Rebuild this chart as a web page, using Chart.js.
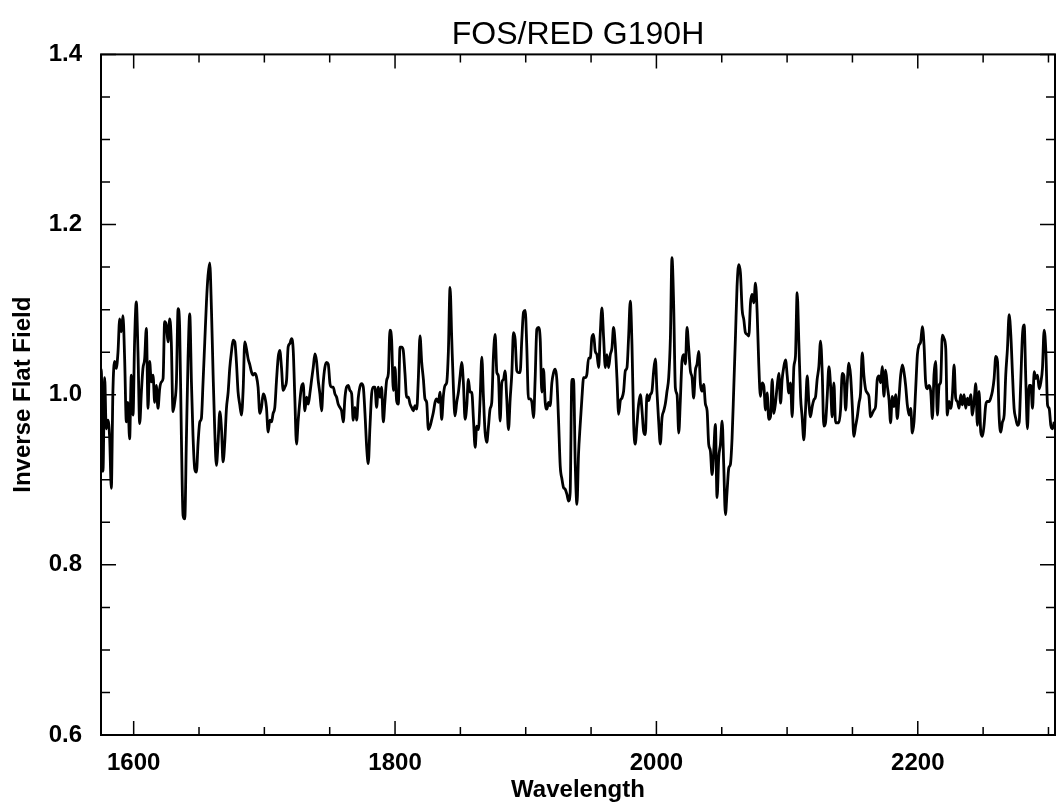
<!DOCTYPE html>
<html>
<head>
<meta charset="utf-8">
<title>FOS/RED G190H</title>
<script src="https://cdn.jsdelivr.net/npm/chart.js@4"></script>
<style>
  html, body { margin: 0; padding: 0; background: #fff; overflow: hidden; }
  #wrap { width: 1060px; height: 806px; }
</style>
</head>
<body>
<div id="wrap"><canvas id="spectrum" width="1060" height="806"></canvas></div>
<script>
// wavelength samples (Angstrom) and inverse flat field
const wavelength = [
  1573.9, 1575.2, 1576.5, 1577.8, 1579.0, 1580.3, 1581.6,
  1582.9, 1584.1, 1585.4, 1586.7, 1588.0, 1589.3, 1590.5, 1591.8, 1593.1, 1594.4,
  1595.6, 1596.9, 1598.2, 1599.5, 1600.7, 1602.0, 1603.3, 1604.6, 1605.9, 1607.1,
  1608.4, 1609.7, 1611.0, 1612.2, 1613.5, 1614.8, 1616.1, 1617.3, 1618.6, 1619.9,
  1621.2, 1622.5, 1623.7, 1625.0, 1626.3, 1627.6, 1628.8, 1630.1, 1631.4, 1632.7,
  1634.0, 1635.2, 1636.5, 1637.8, 1639.1, 1640.3, 1641.6, 1642.9, 1644.2, 1645.4,
  1646.7, 1648.0, 1649.3, 1650.6, 1651.8, 1653.1, 1654.4, 1655.7, 1656.9, 1658.2,
  1659.5, 1660.8, 1662.0, 1663.3, 1664.6, 1665.9, 1667.2, 1668.4, 1669.7, 1671.0,
  1672.3, 1673.5, 1674.8, 1676.1, 1677.4, 1678.6, 1679.9, 1681.2, 1682.5, 1683.8,
  1685.0, 1686.3, 1687.6, 1688.9, 1690.1, 1691.4, 1692.7, 1694.0, 1695.2, 1696.5,
  1697.8, 1699.1, 1700.4, 1701.6, 1702.9, 1704.2, 1705.5, 1706.7, 1708.0, 1709.3,
  1710.6, 1711.8, 1713.1, 1714.4, 1715.7, 1717.0, 1718.2, 1719.5, 1720.8, 1722.1,
  1723.3, 1724.6, 1725.9, 1727.2, 1728.4, 1729.7, 1731.0, 1732.3, 1733.6, 1734.8,
  1736.1, 1737.4, 1738.7, 1739.9, 1741.2, 1742.5, 1743.8, 1745.0, 1746.3, 1747.6,
  1748.9, 1750.2, 1751.4, 1752.7, 1754.0, 1755.3, 1756.5, 1757.8, 1759.1, 1760.4,
  1761.7, 1762.9, 1764.2, 1765.5, 1766.8, 1768.0, 1769.3, 1770.6, 1771.9, 1773.1,
  1774.4, 1775.7, 1777.0, 1778.3, 1779.5, 1780.8, 1782.1, 1783.4, 1784.6, 1785.9,
  1787.2, 1788.5, 1789.7, 1791.0, 1792.3, 1793.6, 1794.9, 1796.1, 1797.4, 1798.7,
  1800.0, 1801.2, 1802.5, 1803.8, 1805.1, 1806.3, 1807.6, 1808.9, 1810.2, 1811.5,
  1812.7, 1814.0, 1815.3, 1816.6, 1817.8, 1819.1, 1820.4, 1821.7, 1822.9, 1824.2,
  1825.5, 1826.8, 1828.1, 1829.3, 1830.6, 1831.9, 1833.2, 1834.4, 1835.7, 1837.0,
  1838.3, 1839.5, 1840.8, 1842.1, 1843.4, 1844.7, 1845.9, 1847.2, 1848.5, 1849.8,
  1851.0, 1852.3, 1853.6, 1854.9, 1856.1, 1857.4, 1858.7, 1860.0, 1861.3, 1862.5,
  1863.8, 1865.1, 1866.4, 1867.6, 1868.9, 1870.2, 1871.5, 1872.7, 1874.0, 1875.3,
  1876.6, 1877.9, 1879.1, 1880.4, 1881.7, 1883.0, 1884.2, 1885.5, 1886.8, 1888.1,
  1889.4, 1890.6, 1891.9, 1893.2, 1894.5, 1895.7, 1897.0, 1898.3, 1899.6, 1900.8,
  1902.1, 1903.4, 1904.7, 1906.0, 1907.2, 1908.5, 1909.8, 1911.1, 1912.3, 1913.6,
  1914.9, 1916.2, 1917.4, 1918.7, 1920.0, 1921.3, 1922.6, 1923.8, 1925.1, 1926.4,
  1927.7, 1928.9, 1930.2, 1931.5, 1932.8, 1934.0, 1935.3, 1936.6, 1937.9, 1939.2,
  1940.4, 1941.7, 1943.0, 1944.3, 1945.5, 1946.8, 1948.1, 1949.4, 1950.6, 1951.9,
  1953.2, 1954.5, 1955.8, 1957.0, 1958.3, 1959.6, 1960.9, 1962.1, 1963.4, 1964.7,
  1966.0, 1967.2, 1968.5, 1969.8, 1971.1, 1972.4, 1973.6, 1974.9, 1976.2, 1977.5,
  1978.7, 1980.0, 1981.3, 1982.6, 1983.8, 1985.1, 1986.4, 1987.7, 1989.0, 1990.2,
  1991.5, 1992.8, 1994.1, 1995.3, 1996.6, 1997.9, 1999.2, 2000.4, 2001.7, 2003.0,
  2004.3, 2005.6, 2006.8, 2008.1, 2009.4, 2010.7, 2011.9, 2013.2, 2014.5, 2015.8,
  2017.1, 2018.3, 2019.6, 2020.9, 2022.2, 2023.4, 2024.7, 2026.0, 2027.3, 2028.5,
  2029.8, 2031.1, 2032.4, 2033.7, 2034.9, 2036.2, 2037.5, 2038.8, 2040.0, 2041.3,
  2042.6, 2043.9, 2045.1, 2046.4, 2047.7, 2049.0, 2050.3, 2051.5, 2052.8, 2054.1,
  2055.4, 2056.6, 2057.9, 2059.2, 2060.5, 2061.7, 2063.0, 2064.3, 2065.6, 2066.9,
  2068.1, 2069.4, 2070.7, 2072.0, 2073.2, 2074.5, 2075.8, 2077.1, 2078.3, 2079.6,
  2080.9, 2082.2, 2083.5, 2084.7, 2086.0, 2087.3, 2088.6, 2089.8, 2091.1, 2092.4,
  2093.7, 2095.0, 2096.2, 2097.5, 2098.8, 2100.1, 2101.3, 2102.6, 2103.9, 2105.2,
  2106.4, 2107.7, 2109.0, 2110.3, 2111.5, 2112.8, 2114.1, 2115.4, 2116.7, 2117.9,
  2119.2, 2120.5, 2121.8, 2123.0, 2124.3, 2125.6, 2126.9, 2128.1, 2129.4, 2130.7,
  2132.0, 2133.3, 2134.5, 2135.8, 2137.1, 2138.4, 2139.6, 2140.9, 2142.2, 2143.5,
  2144.8, 2146.0, 2147.3, 2148.6, 2149.9, 2151.1, 2152.4, 2153.7, 2155.0, 2156.2,
  2157.5, 2158.8, 2160.1, 2161.4, 2162.6, 2163.9, 2165.2, 2166.5, 2167.7, 2169.0,
  2170.3, 2171.6, 2172.8, 2174.1, 2175.4, 2176.7, 2178.0, 2179.2, 2180.5, 2181.8,
  2183.1, 2184.3, 2185.6, 2186.9, 2188.2, 2189.4, 2190.7, 2192.0, 2193.3, 2194.6,
  2195.8, 2197.1, 2198.4, 2199.7, 2200.9, 2202.2, 2203.5, 2204.8, 2206.0, 2207.3,
  2208.6, 2209.9, 2211.2, 2212.4, 2213.7, 2215.0, 2216.3, 2217.5, 2218.8, 2220.1,
  2221.4, 2222.6, 2223.9, 2225.2, 2226.5, 2227.8, 2229.0, 2230.3, 2231.6, 2232.9,
  2234.1, 2235.4, 2236.7, 2238.0, 2239.2, 2240.5, 2241.8, 2243.1, 2244.4, 2245.6,
  2246.9, 2248.2, 2249.5, 2250.7, 2252.0, 2253.3, 2254.6, 2255.8, 2257.1, 2258.4,
  2259.7, 2261.0, 2262.2, 2263.5, 2264.8, 2266.1, 2267.3, 2268.6, 2269.9, 2271.2,
  2272.5, 2273.7, 2275.0, 2276.3, 2277.6, 2278.8, 2280.1, 2281.4, 2282.7, 2283.9,
  2285.2, 2286.5, 2287.8, 2289.1, 2290.3, 2291.6, 2292.9, 2294.2, 2295.4, 2296.7,
  2298.0, 2299.3, 2300.5, 2301.8, 2303.1, 2304.4
];

const inverseFlat = [
  0.93, 1.03, 0.91, 1.02, 0.96, 0.97, 0.95,
  0.89, 1.003, 1.039, 1.031, 1.050, 1.089, 1.074, 1.093, 1.042, 0.968,
  0.991, 0.948, 1.023, 0.976, 1.062, 1.109, 1.050, 0.966, 1.003, 1.031,
  1.042, 1.078, 0.984, 1.039, 1.015, 1.023, 0.991, 1.011, 0.984, 1.007,
  1.015, 1.019, 1.086, 1.082, 1.062, 1.089, 1.062, 0.980, 0.991, 1.015,
  1.101, 1.078, 0.952, 0.858, 0.854, 0.944, 1.042, 1.095, 1.015, 0.952,
  0.913, 0.909, 0.944, 0.968, 0.972, 1.015, 1.062, 1.109, 1.140, 1.155,
  1.101, 1.023, 0.960, 0.917, 0.944, 0.980, 0.960, 0.921, 0.944, 0.984,
  1.003, 1.031, 1.050, 1.064, 1.062, 1.039, 1.003, 0.988, 0.976, 1.007,
  1.062, 1.054, 1.042, 1.035, 1.027, 1.023, 1.025, 1.021, 1.009, 0.978,
  0.985, 1.001, 0.997, 0.985, 0.956, 0.970, 0.968, 0.978, 0.985, 1.017,
  1.044, 1.052, 1.032, 1.005, 1.009, 1.017, 1.056, 1.060, 1.066, 1.052,
  0.997, 0.942, 0.970, 0.993, 1.009, 1.013, 0.981, 0.997, 0.989, 1.001,
  1.017, 1.032, 1.048, 1.040, 1.017, 1.001, 0.981, 1.013, 1.032, 1.038,
  1.036, 1.013, 1.009, 1.009, 1.001, 0.997, 0.989, 0.985, 0.981, 0.968,
  0.997, 1.009, 1.011, 1.005, 1.001, 0.970, 0.985, 0.970, 0.997, 1.009,
  1.013, 1.009, 0.978, 0.938, 0.919, 0.962, 1.001, 1.009, 1.009, 0.985,
  1.009, 0.997, 1.009, 0.968, 0.993, 1.017, 1.025, 1.076, 1.064, 1.005,
  1.032, 0.993, 0.989, 1.056, 1.056, 1.052, 1.025, 0.997, 0.997, 0.989,
  0.985, 0.981, 0.987, 0.983, 1.018, 1.069, 1.038, 1.018, 0.995, 0.991,
  0.959, 0.963, 0.971, 0.979, 0.991, 0.995, 0.991, 1.003, 0.971, 0.999,
  1.011, 1.014, 1.050, 1.126, 1.065, 1.007, 0.975, 0.991, 1.003, 1.022,
  1.038, 1.014, 0.971, 0.987, 1.018, 1.003, 1.003, 0.971, 0.938, 0.963,
  0.959, 0.995, 1.044, 0.999, 0.956, 0.944, 0.963, 0.983, 0.991, 1.046,
  1.071, 1.026, 1.022, 0.969, 1.014, 1.018, 1.028, 0.995, 0.959, 0.995,
  1.026, 1.073, 1.065, 1.028, 1.026, 1.026, 1.065, 1.097, 1.099, 1.057,
  0.995, 0.995, 0.991, 0.973, 1.018, 1.077, 1.079, 1.065, 1.003, 1.030,
  0.991, 0.983, 0.991, 0.987, 1.014, 1.026, 1.030, 1.018, 0.971, 0.916,
  0.901, 0.891, 0.889, 0.883, 0.875, 0.885, 1.018, 1.018, 0.918, 0.871,
  0.930, 0.965, 0.996, 1.020, 1.020, 1.024, 1.043, 1.043, 1.067, 1.071,
  1.051, 1.047, 1.032, 1.071, 1.102, 1.067, 1.032, 1.047, 1.032, 1.047,
  1.055, 1.079, 1.059, 1.020, 0.977, 0.993, 0.996, 1.004, 1.028, 1.032,
  1.067, 1.110, 1.059, 0.965, 0.942, 0.965, 0.989, 1.000, 0.981, 0.957,
  0.953, 1.000, 0.993, 1.000, 1.004, 1.028, 1.042, 1.004, 0.969, 0.942,
  0.973, 0.981, 0.989, 1.004, 1.020, 1.067, 1.161, 1.106, 1.008, 1.000,
  0.955, 0.993, 1.040, 1.047, 1.036, 1.079, 1.055, 1.028, 1.020, 0.996,
  1.028, 1.036, 1.051, 1.012, 1.004, 1.012, 0.989, 0.981, 0.942, 0.934,
  0.906, 0.934, 0.965, 0.879, 0.926, 0.942, 0.969, 0.918, 0.859, 0.887,
  0.914, 0.918, 0.949, 1.008, 1.069, 1.127, 1.153, 1.143, 1.100, 1.088,
  1.073, 1.071, 1.069, 1.108, 1.118, 1.108, 1.131, 1.096, 1.037, 0.998,
  1.014, 1.010, 0.982, 1.002, 0.971, 0.974, 1.018, 0.978, 0.990, 1.010,
  1.025, 0.990, 1.018, 1.033, 1.041, 1.022, 1.002, 1.014, 0.974, 1.033,
  1.045, 1.120, 1.061, 0.998, 0.974, 0.947, 0.982, 1.022, 0.990, 0.974,
  0.986, 0.994, 0.998, 1.018, 1.033, 1.063, 1.025, 0.963, 0.967, 0.998,
  1.033, 1.010, 0.974, 1.014, 0.967, 0.967, 0.967, 0.982, 1.025, 1.022,
  0.982, 1.014, 1.037, 1.022, 0.986, 0.951, 0.963, 0.974, 0.990, 1.002,
  1.049, 1.022, 1.006, 1.002, 0.998, 0.974, 0.978, 0.982, 0.986, 1.018,
  1.022, 1.014, 1.033, 0.998, 1.029, 1.010, 0.994, 0.967, 0.998, 0.986,
  1.000, 0.972, 0.996, 1.023, 1.035, 1.027, 1.011, 0.988, 0.976, 0.984,
  0.955, 0.968, 1.007, 1.047, 1.058, 1.062, 1.080, 1.058, 1.015, 1.007,
  1.011, 1.004, 0.972, 1.023, 1.039, 0.976, 1.011, 1.015, 1.070, 1.066,
  1.054, 0.976, 0.992, 0.984, 1.000, 1.035, 0.996, 0.992, 0.984, 1.000,
  0.988, 1.000, 0.984, 0.996, 0.988, 1.000, 0.976, 0.992, 1.013, 0.964,
  1.004, 0.956, 0.951, 0.964, 0.988, 0.992, 0.992, 0.996, 1.004, 1.019,
  1.045, 1.039, 0.976, 0.956, 0.968, 0.976, 1.023, 1.054, 1.094, 1.070,
  1.023, 0.984, 0.972, 0.964, 0.968, 1.015, 1.070, 1.082, 1.015, 0.960,
  1.011, 1.011, 0.984, 1.027, 1.019, 1.023, 1.007, 1.015, 1.031, 1.076,
  1.051, 0.988, 0.984, 0.964, 0.960, 0.968
];

const xTicks = [1600, 1800, 2000, 2200];
const yTicks = [0.6, 0.8, 1.0, 1.2, 1.4];
const xMinorStep = 50;
const yMinorStep = 0.05;

const fontFamily = "'Liberation Sans', Arial, Helvetica, sans-serif";

// box around the plot with inward tick marks on all four sides
const frameTicks = {
  id: "frameTicks",
  afterDraw(chart) {
    const ctx = chart.ctx;
    const { left, right, top, bottom } = chart.chartArea;
    const xs = chart.scales.x;
    const ys = chart.scales.y;
    ctx.save();
    ctx.strokeStyle = "#000";
    ctx.lineWidth = 2;
    ctx.strokeRect(left, top, right - left, bottom - top);

    ctx.lineWidth = 1.5;
    ctx.beginPath();
    for (let v = xTicks[0] - xMinorStep; v <= xs.max; v += xMinorStep) {
      if (v < xs.min) continue;
      const px = xs.getPixelForValue(v);
      const len = xTicks.includes(v) ? 14 : 8;
      ctx.moveTo(px, bottom); ctx.lineTo(px, bottom - len);
      ctx.moveTo(px, top); ctx.lineTo(px, top + len);
    }
    const nY = Math.round((ys.max - ys.min) / yMinorStep);
    for (let k = 0; k <= nY; k++) {
      const py = ys.getPixelForValue(ys.min + k * yMinorStep);
      const len = k % 4 === 0 ? 15 : 9;
      ctx.moveTo(left, py); ctx.lineTo(left + len, py);
      ctx.moveTo(right, py); ctx.lineTo(right - len, py);
    }
    ctx.stroke();
    ctx.restore();
  },
};

const ctx = document.getElementById("spectrum").getContext("2d");

new Chart(ctx, {
  type: "line",
  data: {
    datasets: [
      {
        label: "Inverse Flat Field",
        data: wavelength.map((w, i) => ({ x: w, y: inverseFlat[i] })),
        borderColor: "#000",
        borderWidth: 2.8,
        pointRadius: 0,
        cubicInterpolationMode: "monotone",
        fill: false,
      },
    ],
  },
  options: {
    responsive: false,
    animation: false,
    devicePixelRatio: 1,
    layout: { padding: { left: 0, right: 5, top: 0, bottom: 0 } },
    plugins: {
      legend: { display: false },
      tooltip: { enabled: false },
      title: {
        display: true,
        text: "FOS/RED G190H",
        fullSize: false,
        color: "#000",
        font: { family: fontFamily, size: 32, weight: "normal" },
        padding: { top: 16, bottom: 0 },
      },
    },
    scales: {
      x: {
        type: "linear",
        min: 1575,
        max: 2305,
        grid: { display: false, drawTicks: false },
        border: { display: false },
        afterBuildTicks: (scale) => {
          scale.ticks = xTicks.map((v) => ({ value: v }));
        },
        afterFit: (scale) => { scale.height = 71; },
        ticks: {
          color: "#000",
          padding: 14,
          maxRotation: 0,
          font: { family: fontFamily, size: 24, weight: "bold" },
          callback: (v) => String(v),
        },
        title: {
          display: true,
          text: "Wavelength",
          color: "#000",
          font: { family: fontFamily, size: 24, weight: "bold" },
          padding: { top: 0, bottom: 1 },
        },
      },
      y: {
        min: 0.6,
        max: 1.4,
        grid: { display: false, drawTicks: false },
        border: { display: false },
        afterBuildTicks: (scale) => {
          scale.ticks = yTicks.map((v) => ({ value: v }));
        },
        afterFit: (scale) => { scale.width = 101; },
        ticks: {
          color: "#000",
          padding: 19,
          font: { family: fontFamily, size: 24, weight: "bold" },
          callback: (v) => Number(v).toFixed(1),
        },
        title: {
          display: true,
          text: "Inverse Flat Field",
          color: "#000",
          font: { family: fontFamily, size: 24, weight: "bold" },
          padding: { top: 9, bottom: 0 },
        },
      },
    },
  },
  plugins: [frameTicks],
});
</script>
</body>
</html>
